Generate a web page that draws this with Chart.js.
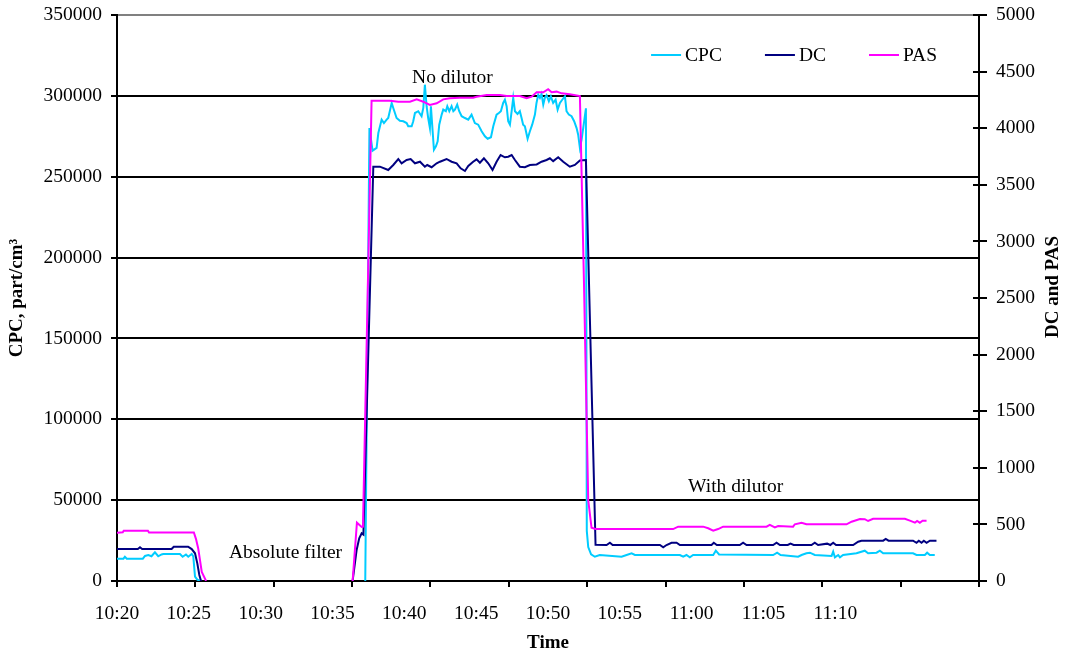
<!DOCTYPE html>
<html>
<head>
<meta charset="utf-8">
<title>CPC, DC and PAS signals</title>
<script src="https://cdn.jsdelivr.net/npm/chart.js@4.4.1/dist/chart.umd.min.js"></script>
<style>
  html, body { margin: 0; padding: 0; background: #ffffff; }
  #wrap { width: 1065px; height: 654px; }
</style>
</head>
<body>
<div id="wrap"><canvas id="chart" width="1065" height="654"></canvas></div>
<script>
// Time is given in minutes of the day (620 = 10:20); null marks the break in the record.
const cpcReadings = [
  [620.00, 13800], [620.45, 13800], [620.55, 15000], [620.68, 13800], [621.80, 13800],
  [621.95, 15500], [622.18, 16000], [622.40, 15300], [622.64, 17700], [622.87, 15300],
  [623.10, 16400], [623.22, 16700], [624.38, 16700], [624.57, 15000], [624.80, 16400],
  [624.96, 15000], [625.20, 16700], [625.31, 15200], [625.43, 2700], [625.59, 800],
  [625.78, 0],
  [630.00, null],
  [637.28, 0], [637.57, 280100], [637.79, 266100], [638.07, 267800], [638.19, 277000],
  [638.42, 285300], [638.58, 283200], [638.77, 285300], [638.88, 286300], [639.12, 295600],
  [639.23, 292500], [639.46, 286300], [639.69, 284600], [639.93, 284300], [640.16, 283200],
  [640.27, 281200], [640.51, 281200], [640.62, 284300], [640.74, 289400], [640.97, 290500],
  [641.20, 287400], [641.32, 292500], [641.43, 306900], [641.55, 293600], [641.66, 286300],
  [641.78, 280100], [641.85, 293600], [641.97, 278100], [642.06, 266700], [642.20, 268800],
  [642.32, 271900], [642.43, 282200], [642.60, 288400], [642.71, 291500], [642.89, 290500],
  [642.99, 293600], [643.13, 290500], [643.29, 293600], [643.41, 290500], [643.52, 291500],
  [643.68, 294600], [643.82, 290500], [643.99, 287400], [644.22, 286300], [644.45, 285300],
  [644.68, 288400], [644.91, 283200], [645.14, 282200], [645.38, 278100], [645.61, 275000],
  [645.80, 273500], [646.03, 274400], [646.19, 281200], [646.42, 288400], [646.58, 289400],
  [646.72, 290500], [646.88, 295600], [647.00, 297600], [647.12, 293600], [647.23, 284300],
  [647.35, 282200], [647.47, 290500], [647.58, 298700], [647.70, 290500], [647.88, 288800],
  [648.04, 290500], [648.16, 286300], [648.27, 282200], [648.39, 281200], [648.58, 273500],
  [648.74, 278100], [648.90, 282200], [649.09, 288400], [649.20, 295600], [649.32, 300700],
  [649.44, 298700], [649.55, 301200], [649.67, 294600], [649.78, 298700], [649.90, 300400],
  [650.06, 296700], [650.20, 299700], [650.36, 295600], [650.53, 297600], [650.67, 291500],
  [650.83, 295600], [650.99, 297600], [651.18, 299700], [651.29, 290500], [651.45, 288400],
  [651.64, 287400], [651.82, 284300], [651.99, 280100], [652.10, 276000], [652.22, 267800],
  [652.34, 272900], [652.64, 292300], [652.70, 31000], [652.80, 21000], [653.00, 16500],
  [653.26, 15000], [653.60, 16080], [655.12, 15030], [655.47, 16080], [655.82, 17130],
  [656.05, 16080], [659.18, 16080], [659.41, 15030], [659.64, 16080], [659.87, 14660],
  [660.10, 16080], [661.50, 16080], [661.68, 18740], [661.91, 16400], [665.67, 16080],
  [665.95, 17500], [666.19, 16080], [667.41, 15030], [667.65, 16080], [667.99, 17130],
  [668.23, 17500], [668.57, 16080], [669.74, 15500], [669.85, 18120], [669.97, 14660],
  [670.20, 16080], [670.32, 14660], [670.54, 16080], [671.47, 17130], [672.05, 18740],
  [672.28, 17130], [672.87, 17500], [673.10, 18740], [673.33, 17130], [675.41, 17130],
  [675.65, 16080], [676.23, 16080], [676.39, 17500], [676.58, 16080], [676.92, 16080]
];

const dcReadings = [
  [620.00, 283], [621.45, 283], [621.60, 298], [621.75, 283], [623.80, 283],
  [623.95, 303], [624.95, 303], [625.20, 282], [625.43, 245], [625.59, 156],
  [625.73, 53], [625.85, 0],
  [630.00, null],
  [636.40, 0], [636.68, 274], [636.86, 377], [637.03, 421], [637.15, 410],
  [637.84, 3660], [638.30, 3660], [638.88, 3631], [639.23, 3675], [639.58, 3728],
  [639.81, 3690], [640.16, 3719], [640.44, 3728], [640.74, 3690], [641.09, 3704],
  [641.43, 3660], [641.59, 3675], [641.90, 3655], [642.25, 3690], [642.48, 3704],
  [642.94, 3728], [643.29, 3704], [643.64, 3690], [643.92, 3646], [644.22, 3622],
  [644.45, 3666], [644.79, 3704], [645.03, 3725], [645.26, 3695], [645.54, 3734],
  [645.84, 3690], [646.14, 3631], [646.42, 3704], [646.70, 3763], [647.00, 3743],
  [647.23, 3748], [647.47, 3763], [647.70, 3719], [648.04, 3660], [648.39, 3655],
  [648.74, 3675], [649.21, 3680], [649.55, 3704], [649.90, 3719], [650.13, 3734],
  [650.36, 3709], [650.71, 3743], [651.06, 3704], [651.52, 3660], [651.87, 3675],
  [652.22, 3714], [652.64, 3719], [653.31, 320], [654.08, 318], [654.31, 338],
  [654.50, 318], [657.79, 318], [658.02, 298], [658.25, 318], [658.60, 338],
  [658.95, 338], [659.18, 318], [661.38, 318], [661.54, 338], [661.75, 318],
  [663.35, 318], [663.58, 338], [663.82, 318], [665.67, 318], [665.91, 338],
  [666.14, 318], [666.69, 318], [666.88, 330], [667.10, 318], [668.34, 318],
  [668.57, 338], [668.80, 318], [669.43, 330], [669.65, 318], [669.85, 338],
  [670.05, 318], [671.24, 318], [671.59, 347], [671.82, 356], [673.33, 356],
  [673.51, 371], [673.70, 356], [675.41, 356], [675.65, 338], [675.81, 356],
  [676.00, 338], [676.16, 356], [676.35, 338], [676.58, 356], [677.04, 356]
];

const pasReadings = [
  [620.00, 427], [620.40, 430], [620.47, 444], [622.15, 444], [622.23, 428],
  [625.35, 428], [625.50, 370], [625.65, 290], [625.90, 80], [626.20, 0],
  [630.00, null],
  [636.40, 0], [636.70, 515], [637.03, 477], [637.12, 480], [637.72, 4243],
  [639.00, 4243], [639.58, 4234], [640.39, 4234], [640.86, 4255], [641.32, 4234],
  [641.78, 4205], [642.25, 4220], [642.71, 4255], [643.17, 4264], [643.87, 4270],
  [644.79, 4270], [645.03, 4278], [645.73, 4293], [646.65, 4293], [647.12, 4284],
  [648.04, 4284], [648.51, 4264], [648.86, 4278], [649.21, 4317], [649.67, 4317],
  [650.01, 4344], [650.25, 4317], [650.60, 4323], [650.95, 4308], [651.52, 4300],
  [652.22, 4284], [652.50, 2660], [652.80, 715], [653.03, 470], [653.30, 459],
  [658.71, 459], [659.06, 480], [660.80, 480], [661.15, 466], [661.50, 444],
  [661.84, 459], [662.19, 480], [665.21, 480], [665.44, 495], [665.79, 474],
  [666.02, 486], [667.06, 480], [667.18, 501], [667.65, 515], [667.99, 501],
  [670.78, 501], [671.13, 524], [671.71, 548], [672.05, 546], [672.28, 530],
  [672.63, 550], [674.84, 550], [675.19, 533], [675.54, 515], [675.69, 530],
  [675.88, 515], [676.07, 533], [676.35, 533]
];

// Axis ranges and tick steps
const timeRange = [620, 680];      // 10:20 .. 11:20
const lastTimeLabel = 670;         // 11:10
const timeStep = 5;
const cpcRange = [0, 350000];
const cpcStep = 50000;
const dcPasRange = [0, 5000];
const dcPasStep = 500;
const timeTickMarks = 11;          // evenly spaced marks along the time axis

// Text notes, anchored in axis units (time, CPC level)
const notes = [
  { text: 'No dilutor', time: 643.35, level: 311000 },
  { text: 'Absolute filter', time: 631.73, level: 17300 },
  { text: 'With dilutor', time: 663.06, level: 58100 }
];

const serif = "'Liberation Serif', 'Times New Roman', serif";
const toPoints = rows => rows.map(([t, v]) => ({ x: t, y: v }));
const clock = m => Math.floor(m / 60) + ':' + String(Math.round(m % 60)).padStart(2, '0');

// keep the plot box fixed: no extra room reserved for half-labels at the ends
const fixBox = size => s => {
  if (s.isHorizontal()) { s.height = size; s.paddingLeft = 0; s.paddingRight = 0; }
  else { s.width = size; s.paddingTop = 0; s.paddingBottom = 0; }
};

const decorations = {
  id: 'decorations',
  afterDraw(chart) {
    const { ctx, chartArea: area, scales } = chart;
    ctx.save();
    ctx.strokeStyle = '#000';
    ctx.lineWidth = 2;

    // marks below the time axis
    ctx.beginPath();
    for (let i = 0; i <= timeTickMarks; i++) {
      const px = Math.round(area.left + i * (area.right - area.left) / timeTickMarks);
      ctx.moveTo(px, area.bottom);
      ctx.lineTo(px, area.bottom + 6);
    }
    ctx.stroke();

    // inner half of the right-axis marks
    const yr = scales.yRight;
    ctx.beginPath();
    yr.ticks.forEach(t => {
      const py = Math.round(yr.getPixelForValue(t.value));
      ctx.moveTo(area.right - 6, py);
      ctx.lineTo(area.right, py);
    });
    ctx.stroke();

    // notes
    ctx.fillStyle = '#000';
    ctx.font = '19.5px ' + serif;
    ctx.textAlign = 'center';
    ctx.textBaseline = 'middle';
    notes.forEach(n => {
      ctx.fillText(n.text, scales.x.getPixelForValue(n.time), scales.yCpc.getPixelForValue(n.level));
    });

    // legend
    const lineLen = 30, gapText = 4, gapItem = 43;
    const items = chart.data.datasets.map(d => ({ label: d.label, color: d.borderColor, w: ctx.measureText(d.label).width }));
    const total = items.reduce((s, it) => s + lineLen + gapText + it.w, 0) + gapItem * (items.length - 1);
    let lx = area.right - 42 - total;
    const ly = area.top + 40;
    ctx.textAlign = 'left';
    items.forEach(it => {
      ctx.strokeStyle = it.color;
      ctx.lineWidth = 2;
      ctx.beginPath();
      ctx.moveTo(lx, ly);
      ctx.lineTo(lx + lineLen, ly);
      ctx.stroke();
      ctx.fillStyle = '#000';
      ctx.fillText(it.label, lx + lineLen + gapText, ly + 1);
      lx += lineLen + gapText + it.w + gapItem;
    });

    // right axis title, reading upward
    ctx.font = 'bold 19px ' + serif;
    ctx.textAlign = 'center';
    ctx.textBaseline = 'middle';
    ctx.translate(chart.width - 12, (area.top + area.bottom) / 2 - 11);
    ctx.rotate(-Math.PI / 2);
    ctx.fillText('DC and PAS', 0, 0);
    ctx.restore();
  }
};

new Chart(document.getElementById('chart'), {
  type: 'line',
  data: {
    datasets: [
      { label: 'CPC', data: toPoints(cpcReadings), yAxisID: 'yCpc', borderColor: '#00CCFF', order: 3 },
      { label: 'DC', data: toPoints(dcReadings), yAxisID: 'yRight', borderColor: '#000080', order: 2 },
      { label: 'PAS', data: toPoints(pasReadings), yAxisID: 'yRight', borderColor: '#FF00FF', order: 1 }
    ]
  },
  options: {
    responsive: false,
    animation: false,
    spanGaps: false,
    elements: {
      line: { borderWidth: 2, tension: 0, fill: false },
      point: { radius: 0, hoverRadius: 0 }
    },
    layout: { padding: { top: 15, left: 0, right: 0, bottom: 0 } },
    plugins: { legend: { display: false }, tooltip: { enabled: false } },
    scales: {
      x: {
        type: 'linear',
        position: 'bottom',
        min: timeRange[0],
        max: timeRange[1],
        afterBuildTicks: s => {
          const ticks = [];
          for (let v = timeRange[0]; v <= lastTimeLabel; v += timeStep) ticks.push({ value: v });
          s.ticks = ticks;
        },
        ticks: {
          autoSkip: false,
          maxRotation: 0,
          padding: 21,
          color: '#000',
          font: { family: serif, size: 19.5 },
          callback: v => clock(v)
        },
        grid: { display: false, drawTicks: false },
        border: { display: true, color: '#000', width: 2 },
        title: { display: true, text: 'Time', color: '#000', font: { family: serif, size: 19, weight: 'bold' }, padding: { top: 0, bottom: 0 } },
        afterFit: fixBox(73)
      },
      yCpc: {
        type: 'linear',
        position: 'left',
        min: cpcRange[0],
        max: cpcRange[1],
        ticks: {
          stepSize: cpcStep,
          padding: 9,
          color: '#000',
          font: { family: serif, size: 19.5 },
          callback: v => String(v)
        },
        grid: {
          color: c => (c.tick && c.tick.value === cpcRange[1]) ? '#808080' : '#000',
          lineWidth: 2,
          tickLength: 6,
          tickColor: '#000',
          tickWidth: 2
        },
        border: { display: true, color: '#000', width: 2 },
        title: { display: true, text: 'CPC, part/cm³', color: '#000', font: { family: serif, size: 19, weight: 'bold' }, padding: { top: 6, bottom: 0 } },
        afterFit: fixBox(117)
      },
      yRight: {
        type: 'linear',
        position: 'right',
        min: dcPasRange[0],
        max: dcPasRange[1],
        ticks: {
          stepSize: dcPasStep,
          padding: 9,
          color: '#000',
          font: { family: serif, size: 19.5 },
          callback: v => String(v)
        },
        grid: { drawOnChartArea: false, color: '#000', lineWidth: 2, tickLength: 8 },
        border: { display: true, color: '#000', width: 2 },
        afterFit: fixBox(86)
      }
    }
  },
  plugins: [decorations]
});
</script>
</body>
</html>
